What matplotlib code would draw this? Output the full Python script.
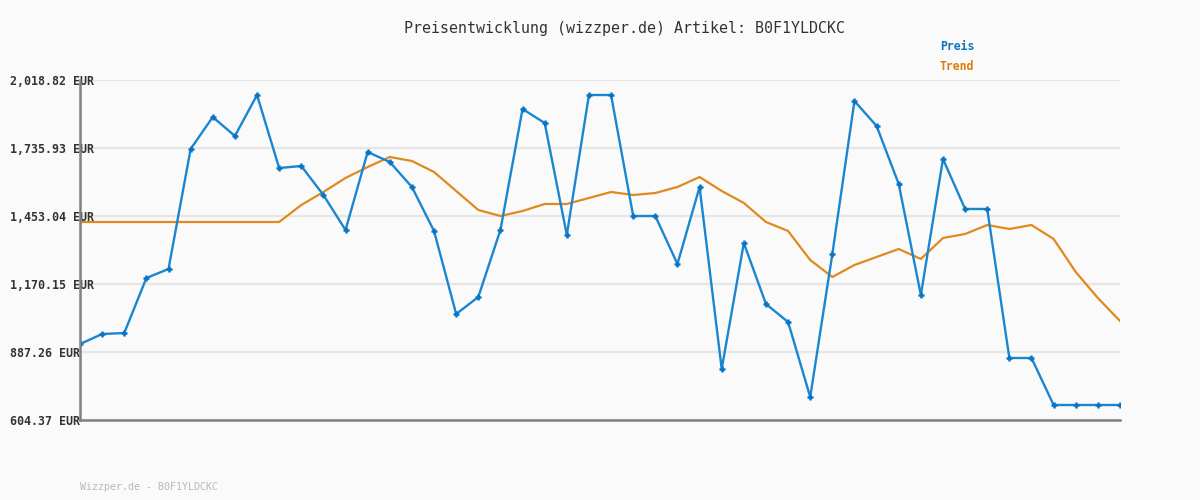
import matplotlib
matplotlib.use("Agg")
import matplotlib.pyplot as plt
import numpy as np

title = "Preisentwicklung (wizzper.de) Artikel: B0F1YLDCKC"
footer = "Wizzper.de - B0F1YLDCKC"
tick_values = [604.37, 887.26, 1170.15, 1453.04, 1735.93, 2018.82]
tick_labels = ["604.37 EUR", "887.26 EUR", "1,170.15 EUR", "1,453.04 EUR", "1,735.93 EUR", "2,018.82 EUR"]

price = [920.5, 962.1, 966.3, 1195.1, 1232.6, 1731.8, 1864.9, 1785.9, 1956.4, 1652.7,
         1661.0, 1540.4, 1394.8, 1719.3, 1677.7, 1573.7, 1390.6, 1045.3, 1116.1, 1394.8,
         1898.2, 1839.9, 1374.0, 1956.4, 1956.4, 1453.0, 1453.0, 1253.4, 1573.7, 816.5,
         1340.7, 1086.9, 1012.1, 700.0, 1294.9, 1931.5, 1827.4, 1586.2, 1124.4, 1690.2,
         1482.2, 1482.2, 862.3, 862.3, 666.8, 666.8, 666.8, 666.8]
trend = [1428.1, 1428.1, 1428.1, 1428.1, 1428.1, 1428.1, 1428.1, 1428.1, 1428.1, 1428.1,
         1498.8, 1552.9, 1611.2, 1656.9, 1698.5, 1681.9, 1636.1, 1557.1, 1478.0, 1453.0,
         1473.9, 1503.0, 1503.0, 1528.0, 1552.9, 1540.4, 1548.7, 1573.7, 1615.3, 1557.1,
         1507.2, 1428.1, 1390.6, 1270.0, 1199.3, 1249.2, 1282.5, 1315.8, 1274.2, 1361.5,
         1378.2, 1415.6, 1399.0, 1415.6, 1357.4, 1220.1, 1111.9, 1016.2]

BG = "#fafafa"
BLUE = "#1a86d0"
ORANGE = "#e08a1e"
MONO = "DejaVu Sans Mono"

fig = plt.figure(figsize=(12, 5), dpi=100, facecolor=BG)
ax = fig.add_axes([80/1200, 1-420/500, 1040/1200, 340/500], facecolor=BG)

x = np.arange(len(price))
ax.plot(x, trend, color=ORANGE, lw=1.6, zorder=3, solid_joinstyle="round")
ax.plot(x, price, color=BLUE, lw=1.7, zorder=4, marker="+", ms=4.5, mew=1.8,
        mec="#0a74c4", solid_joinstyle="round")

ax.set_xlim(0, len(price) - 1)
ax.set_ylim(tick_values[0], tick_values[-1])
ax.set_xticks([])
ax.set_yticks(tick_values)
ax.set_yticklabels(tick_labels, fontfamily=MONO, fontweight="bold", fontsize=8.4, color="#333333")
ax.tick_params(axis="y", length=0, pad=50.4)
for lab in ax.get_yticklabels():
    lab.set_horizontalalignment("left")

ax.grid(axis="y", color="#e6e6e6", lw=1.6, zorder=0)
ax.set_axisbelow(True)
for s in ["top", "right"]:
    ax.spines[s].set_visible(False)
for s in ["left", "bottom"]:
    ax.spines[s].set_color("#808080")
    ax.spines[s].set_linewidth(1.8)
    ax.spines[s].set_zorder(5)

fig.text(624/1200, 1-28/500, title, fontfamily=MONO, fontsize=10.8, color="#333333",
         ha="center", va="center")
fig.text(940/1200, 1-47/500, "Preis", fontfamily=MONO, fontsize=8.3, fontweight="bold",
         color="#0a74c4", ha="left", va="center")
fig.text(940/1200, 1-67/500, "Trend", fontfamily=MONO, fontsize=8.3, fontweight="bold",
         color="#dd7a0a", ha="left", va="center")
fig.text(80/1200, 1-487/500, footer, fontfamily=MONO, fontsize=7.2, color="#b8b8b8",
         ha="left", va="center")

fig.savefig("out.png", dpi=100, facecolor=BG)
